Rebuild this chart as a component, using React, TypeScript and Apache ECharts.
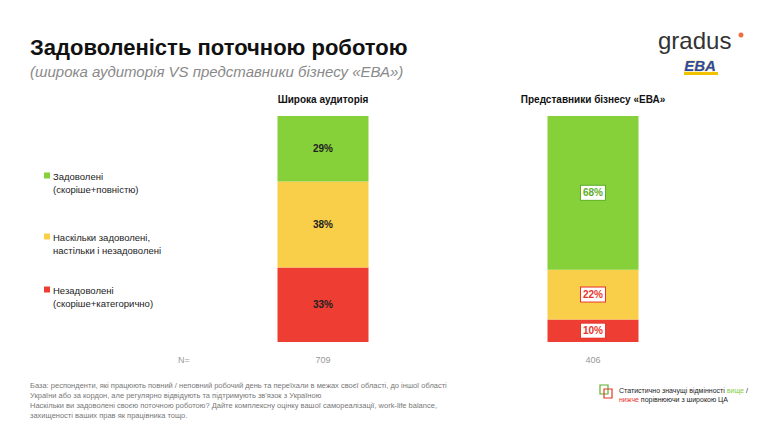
import React, { useEffect, useRef } from 'react';
import * as echarts from 'echarts';

const groups = ['Широка аудиторія', 'Представники бізнесу «ЕВА»'];
const sampleSizes = ['709', '406'];
const satisfied = [29, 68];
const neutral = [38, 22];
const dissatisfied = [33, 10];
// 0 = no marker, 1 = significantly higher, -1 = significantly lower
const satisfiedSig = [0, 1];
const neutralSig = [0, -1];
const dissatisfiedSig = [0, -1];
const legendNames = [
  'Задоволені\n(скоріше+повністю)',
  'Наскільки задоволені,\nнастільки і незадоволені',
  'Незадоволені\n(скоріше+категорично)',
];

const GREEN = '#86d03a';
const YELLOW = '#f9cf4a';
const RED = '#ee3e33';

const mkSeries = (name: string, values: number[], sig: number[], color: string) => ({
  name,
  type: 'bar',
  stack: 'total',
  barWidth: 91,
  data: values.map((v, i) => ({ value: v, sig: sig[i] })),
  itemStyle: { color },
  label: {
    show: true,
    position: 'inside',
    formatter: (p: any) => {
      const s = sig[p.dataIndex];
      if (s === 1) return `{up|${p.value}%}`;
      if (s === -1) return `{down|${p.value}%}`;
      return `{plain|${p.value}%}`;
    },
    rich: {
      plain: { color: '#222', fontSize: 10, fontWeight: 'bold' },
      up: {
        color: '#5fae2a', fontSize: 10, fontWeight: 'bold', backgroundColor: '#fff',
        borderColor: '#5fae2a', borderWidth: 1, padding: [2, 2],
      },
      down: {
        color: '#e8352b', fontSize: 10, fontWeight: 'bold', backgroundColor: '#fff',
        borderColor: '#e8352b', borderWidth: 1, padding: [2, 2],
      },
    },
  },
});

export default function App() {
  const ref = useRef<HTMLDivElement>(null);

  useEffect(() => {
    if (!ref.current) return;
    const chart = echarts.init(ref.current, null, { renderer: 'svg' });
    const font = 'Liberation Sans, Arial, sans-serif';
    const legendY = [176, 237, 290];
    const legendColors = [GREEN, YELLOW, RED];

    chart.setOption({
      animation: false,
      textStyle: { fontFamily: font },
      grid: { left: 188, right: 36, top: 116, bottom: 86 },
      xAxis: {
        type: 'category',
        data: groups,
        position: 'top',
        axisLine: { show: false },
        axisTick: { show: false },
        axisLabel: { color: '#111', fontSize: 10, fontWeight: 'bold', margin: 12 },
      },
      yAxis: { type: 'value', min: 0, max: 100, show: false },
      series: [
        mkSeries(legendNames[2], dissatisfied, dissatisfiedSig, RED),
        mkSeries(legendNames[1], neutral, neutralSig, YELLOW),
        mkSeries(legendNames[0], satisfied, satisfiedSig, GREEN),
      ],
      graphic: [
        {
          type: 'text', left: 30, top: 36,
          style: { text: 'Задоволеність поточною роботою', font: `bold 22px ${font}`, fill: '#111' },
        },
        {
          type: 'text', left: 30, top: 64,
          style: { text: '(широка аудиторія VS представники бізнесу «ЕВА»)', font: `italic 15px ${font}`, fill: '#8a8a8a' },
        },
        {
          type: 'text', left: 658, top: 28,
          style: { text: 'gradus', font: `24px ${font}`, fill: '#333' },
        },
        { type: 'circle', shape: { cx: 741, cy: 35, r: 2.5 }, style: { fill: '#f26b3a' } },
        {
          type: 'text', left: 684, top: 58,
          style: { text: 'EBA', font: `bold italic 15px ${font}`, fill: '#2b4aa8', stroke: '#f2c200', lineWidth: 0.5 },
        },
        { type: 'rect', shape: { x: 684, y: 72, width: 34, height: 3 }, style: { fill: '#f2c200' } },
        ...legendNames.map((n, i) => ({
          type: 'group',
          children: [
            { type: 'rect', shape: { x: 44, y: legendY[i] - 3.5, width: 6, height: 6 }, style: { fill: legendColors[i] } },
            { type: 'text', x: 53, y: legendY[i] - 6, style: { text: n, font: `9.5px ${font}`, fill: '#222', lineHeight: 13 } },
          ],
        })),
        { type: 'text', x: 178, y: 355, style: { text: 'N=', font: `9px ${font}`, fill: '#999' } },
        ...sampleSizes.map((s, i) => ({
          type: 'text', x: [323, 593][i], y: 355,
          style: { text: s, font: `9px ${font}`, fill: '#999', align: 'center' },
        })),
        {
          type: 'text', x: 30, y: 380,
          style: {
            text: 'База: респонденти, які працюють повний / неповний робочий день та переїхали в межах своєї області, до іншої області\nУкраїни або за кордон, але регулярно відвідують та підтримують зв\'язок з Україною\nНаскільки ви задоволені своєю поточною роботою? Дайте комплексну оцінку вашої самореалізації, work-life balance,\nзахищеності ваших прав як працівника тощо.',
            font: `7.5px ${font}`, fill: '#777', lineHeight: 10,
          },
        },
        { type: 'rect', shape: { x: 600, y: 385, width: 8, height: 9 }, style: { fill: 'none', stroke: '#5fae2a', lineWidth: 1.2 } },
        { type: 'rect', shape: { x: 604, y: 389, width: 8, height: 9 }, style: { fill: 'none', stroke: '#e8352b', lineWidth: 1.2 } },
        {
          type: 'text', x: 619, y: 386,
          style: {
            text: '{a|Статистично значущі відмінності }{g|вище}{a| /}\n{r|нижче}{a| порівнюючи з широкою ЦА}',
            font: `7px ${font}`, lineHeight: 9,
            rich: { a: { fill: '#222', fontSize: 7 }, g: { fill: '#86d03a', fontSize: 7 }, r: { fill: '#e8352b', fontSize: 7 } },
          },
        },
      ],
    });
    return () => chart.dispose();
  }, []);

  return (
    <div style={{ margin: -8 }}>
      <div ref={ref} style={{ width: 764, height: 428 }} />
    </div>
  );
}
